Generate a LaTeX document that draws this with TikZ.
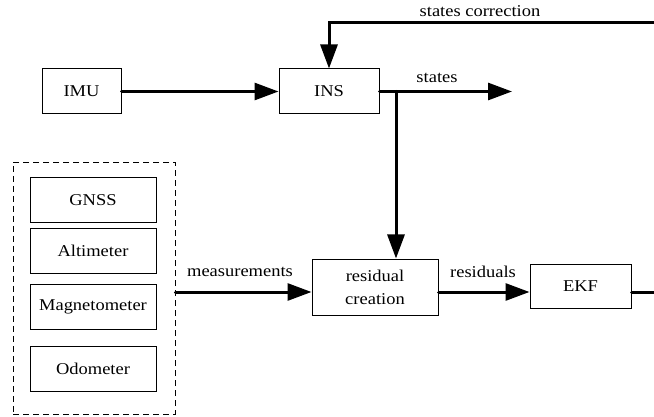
\documentclass[tikz,border=0pt]{standalone}
\usepackage{fontspec}
\setmainfont[FakeStretch=1.12]{Liberation Serif}
\usetikzlibrary{arrows.meta}
\begin{document}
\begin{tikzpicture}[x=1pt,y=-1pt,
  txt/.style={font=\fontsize{16.5}{23}\selectfont},
  box/.style={draw, line width=1pt, inner sep=0pt, txt, align=center},
  sensor/.style={box, minimum width=126pt, minimum height=45pt},
  flow/.style={line width=3pt, line cap=round, -{Triangle[length=24pt,width=17pt]}},
  wire/.style={line width=3pt, line cap=round},
  lbl/.style={txt, inner sep=0pt}]
\useasboundingbox (0,0) rectangle (654,417);

% processing blocks
\node[box, minimum width=79pt, minimum height=45pt] (imu) at (81.5,91.5) {IMU};
\node[box, minimum width=100pt, minimum height=45pt] (ins) at (329,91.5) {INS};
\node[box, minimum width=126pt, minimum height=56pt] (res) at (375,287) {residual\\creation};
\node[box, minimum width=101pt, minimum height=44pt] (ekf) at (580.5,286) {EKF};

% sensor group
\node[draw, line width=0.8pt, dash pattern=on 6pt off 4pt, minimum width=162pt, minimum height=252pt] (sensors) at (94,288) {};
\node[sensor] (gnss) at (93,200.5) {GNSS};
\node[sensor] (alt) at (93,251) {Altimeter};
\node[sensor] (mag) at (93,307) {Magnetometer};
\node[sensor] (odo) at (93,369) {Odometer};

% helper coordinates
\coordinate (scin) at (654,23);
\coordinate (scturn) at (329,23);
\coordinate (statesout) at (512,91.5);
\coordinate (br) at (396,91.5);
\coordinate (mrow) at (0,292);
\coordinate (ekfout) at (654,292);

% connectors
\draw[flow] (imu.east) -- (ins.west);
\draw[flow] (scin) -- (scturn) -- (ins.north);
\draw[flow] (ins.east) -- (statesout);
\draw[flow] (br) -- (res.north -| br);
\draw[flow] (sensors.east |- mrow) -- (res.west |- mrow);
\draw[flow] (res.east |- mrow) -- (ekf.west |- mrow);
\draw[wire] (ekf.east |- mrow) -- (ekfout);

% labels
\node[lbl] (lsc) at (480,11) {states correction};
\node[lbl] (lst) at (437,78) {states};
\node[lbl] (lme) at (240,272) {measurements};
\node[lbl] (lre) at (483,272) {residuals};
\end{tikzpicture}
\end{document}
